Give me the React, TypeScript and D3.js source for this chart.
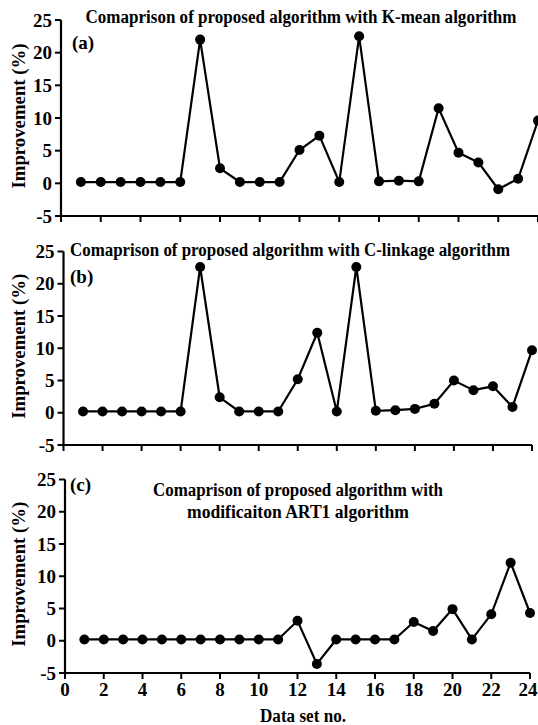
import * as d3 from "d3"

// data set numbers on the x axis
const dataSets = d3.range(1, 25)

// improvement (%) per data set
const kMeanImprovement = [0.2, 0.2, 0.2, 0.2, 0.2, 0.2, 22.0, 2.3, 0.2, 0.2, 0.2, 5.1, 7.3, 0.2, 22.5, 0.3, 0.4, 0.3, 11.5, 4.7, 3.2, -0.9, 0.7, 9.6]
const cLinkageImprovement = [0.2, 0.2, 0.2, 0.2, 0.2, 0.2, 22.6, 2.4, 0.2, 0.2, 0.2, 5.2, 12.4, 0.2, 22.6, 0.3, 0.4, 0.6, 1.4, 5.0, 3.5, 4.1, 0.9, 9.7]
const art1Improvement = [0.2, 0.2, 0.2, 0.2, 0.2, 0.2, 0.2, 0.2, 0.2, 0.2, 0.2, 3.1, -3.6, 0.2, 0.2, 0.2, 0.2, 2.9, 1.5, 4.9, 0.2, 4.1, 12.1, 4.3]

const yTicks = [-5, 0, 5, 10, 15, 20, 25]
const xTicks = [0, 2, 4, 6, 8, 10, 12, 14, 16, 18, 20, 22, 24]

const panelLabels = ["(a)", "(b)", "(c)"]
const panelTitles = [
  ["Comaprison of proposed algorithm with K-mean algorithm"],
  ["Comaprison of proposed algorithm with C-linkage algorithm"],
  ["Comaprison of proposed algorithm with", "modificaiton ART1 algorithm"],
]
const yLabel = "Improvement (%)"
const xLabel = "Data set no."

// the regular face renders unreliably here, the bold serif face does not
const FONT = "Liberation Serif"

// pixel layout of each panel
const panels = [
  { values: kMeanImprovement, left: 61, right: 538, top: 20, bottom: 216, showX: false,
    label: { x: 72, y: 49 }, title: { x: 301, y: 23, lens: [431] } },
  { values: cLinkageImprovement, left: 63.5, right: 532, top: 251.5, bottom: 445, showX: false,
    label: { x: 70, y: 283 }, title: { x: 290, y: 256, lens: [440] } },
  { values: art1Improvement, left: 65, right: 530, top: 479.5, bottom: 673, showX: true,
    label: { x: 70, y: 491 }, title: { x: 298, y: 496, lens: [290, 222] } },
]

const Panel = ({ p, i }) => {
  const x = d3.scaleLinear().domain([0, 24]).range([p.left, p.right])
  const y = d3.scaleLinear().domain([-5, 25]).range([p.bottom, p.top])
  const line = d3
    .line<number>()
    .x((_, j) => x(dataSets[j]))
    .y((d) => y(d))

  return (
    <g fontFamily={FONT} fontWeight="bold">
      {/* axes */}
      <line x1={p.left} x2={p.left} y1={y(25)} y2={y(-5) + 1.1} stroke="#000" strokeWidth={2.2} />
      <line x1={x(0) - 1.1} x2={x(24)} y1={p.bottom} y2={p.bottom} stroke="#000" strokeWidth={2.2} />
      {yTicks.map((t) => (
        <g key={t}>
          <line x1={p.left - 6} x2={p.left} y1={y(t)} y2={y(t)} stroke="#000" strokeWidth={2} />
          <text x={p.left - 9} y={y(t)} dy="0.35em" textAnchor="end" fontSize={19}>
            {t}
          </text>
        </g>
      ))}
      {xTicks.map((t) => (
        <g key={t}>
          <line x1={x(t)} x2={x(t)} y1={p.bottom} y2={p.bottom + 6} stroke="#000" strokeWidth={2} />
          {p.showX && (
            <text x={x(t) - (t === 24 ? 2 : 0)} y={p.bottom + 23} textAnchor="middle" fontSize={19}>
              {t}
            </text>
          )}
        </g>
      ))}

      {/* y axis label */}
      <text
        transform={`translate(18,${(p.top + p.bottom) / 2 - 2}) rotate(-90)`}
        textAnchor="middle"
        dy="0.35em"
        fontSize={19}
        textLength={145}
        lengthAdjust="spacingAndGlyphs"
      >
        {yLabel}
      </text>

      {/* panel letter */}
      <text x={p.label.x} y={p.label.y} fontSize={19}>
        {panelLabels[i]}
      </text>

      {/* title */}
      {panelTitles[i].map((t, k) => (
        <text
          key={k}
          x={p.title.x}
          y={p.title.y + k * 22}
          textAnchor="middle"
          textLength={p.title.lens[k]}
          lengthAdjust="spacingAndGlyphs"
          fontSize={18}
        >
          {t}
        </text>
      ))}

      {/* series */}
      <path d={line(p.values) ?? ""} fill="none" stroke="#000" strokeWidth={2.2} />
      {p.values.map((v, j) => (
        <circle key={j} cx={x(dataSets[j])} cy={y(v)} r={5} fill="#000" />
      ))}

      {p.showX && (
        <text x={303} y={722} textAnchor="middle" fontSize={18} textLength={86} lengthAdjust="spacingAndGlyphs">
          {xLabel}
        </text>
      )}
    </g>
  )
}

const App = () => (
  <svg width={538} height={725} style={{ position: "absolute", left: 0, top: 0, background: "#fff" }}>
    {panels.map((p, i) => (
      <Panel key={i} p={p} i={i} />
    ))}
  </svg>
)

export default App
